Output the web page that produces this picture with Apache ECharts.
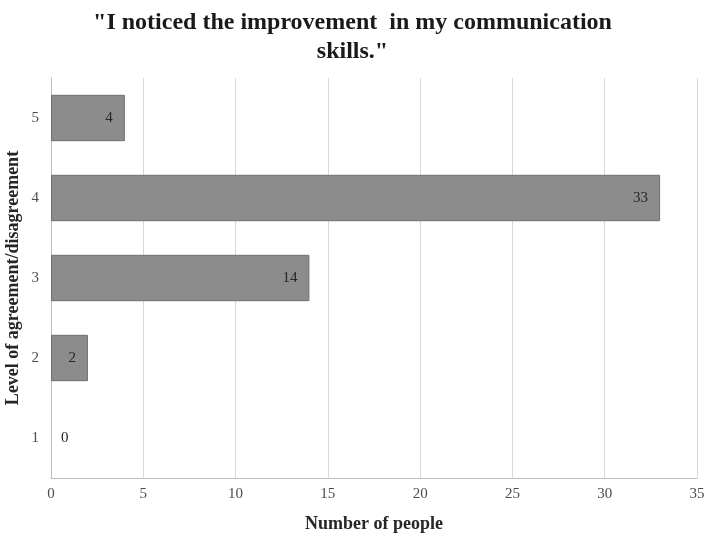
<!DOCTYPE html>
<html>
<head>
<meta charset="utf-8">
<script src="https://cdn.jsdelivr.net/npm/echarts@6/dist/echarts.min.js"></script>
<style>
  html, body { margin: 0; padding: 0; background: #fff; }
  #chart_container { width: 705px; height: 537px; }
</style>
</head>
<body>
<div id="chart_container"></div>
<script>
var levels = ["1", "2", "3", "4", "5"];
var people = [0, 2, 14, 33, 4];
var xTicks = [0, 5, 10, 15, 20, 25, 30, 35];

var dom = document.getElementById("chart_container");
var myChart = echarts.init(dom, null, { renderer: "canvas" });
var serif = "Liberation Serif, Times New Roman, serif";

var option = {
  backgroundColor: "#fff",
  title: {
    text: '"I noticed the improvement  in my communication\nskills."',
    left: "center",
    top: 3,
    textStyle: {
      fontFamily: serif,
      fontWeight: "bold",
      fontSize: 24,
      lineHeight: 29,
      color: "#1a1a1a",
    },
  },
  grid: { left: 51, right: 8, top: 78, bottom: 59, containLabel: false, outerBoundsMode: "none" },
  xAxis: {
    type: "value",
    min: xTicks[0],
    max: xTicks[xTicks.length - 1],
    interval: 5,
    name: "Number of people",
    nameLocation: "middle",
    nameGap: 37,
    nameMoveOverlap: false,
    nameTextStyle: { fontFamily: serif, fontWeight: "bold", fontSize: 18, color: "#262626" },
    axisLine: { show: true, lineStyle: { color: "#bfbfbf" } },
    axisTick: { show: false },
    axisLabel: { fontFamily: serif, fontSize: 15, color: "#4d4d4d", margin: 9 },
    splitLine: { show: true, lineStyle: { color: "#d9d9d9" } },
  },
  yAxis: {
    type: "category",
    data: levels,
    name: "Level of agreement/disagreement",
    nameLocation: "middle",
    nameGap: 29,
    nameMoveOverlap: false,
    nameRotate: 90,
    nameTextStyle: { fontFamily: serif, fontWeight: "bold", fontSize: 18, color: "#262626" },
    axisLine: { show: true, lineStyle: { color: "#bfbfbf" } },
    axisTick: { show: false },
    axisLabel: { fontFamily: serif, fontSize: 15, color: "#4d4d4d", margin: 12 },
  },
  series: [
    {
      type: "bar",
      data: people.map(function (v) {
        return v === 0
          ? { value: v, itemStyle: { borderWidth: 0 }, label: { position: "right", distance: 10 } }
          : { value: v };
      }),
      barCategoryGap: "42%",
      itemStyle: { color: "#8c8c8c", borderColor: "#6e6e6e", borderWidth: 1 },
      label: {
        show: true,
        position: "insideRight",
        distance: 12,
        fontFamily: serif,
        fontSize: 15,
        color: "#262626",
      },
    },
  ],
};

myChart.setOption(option);
window.addEventListener("resize", myChart.resize);
</script>
</body>
</html>
